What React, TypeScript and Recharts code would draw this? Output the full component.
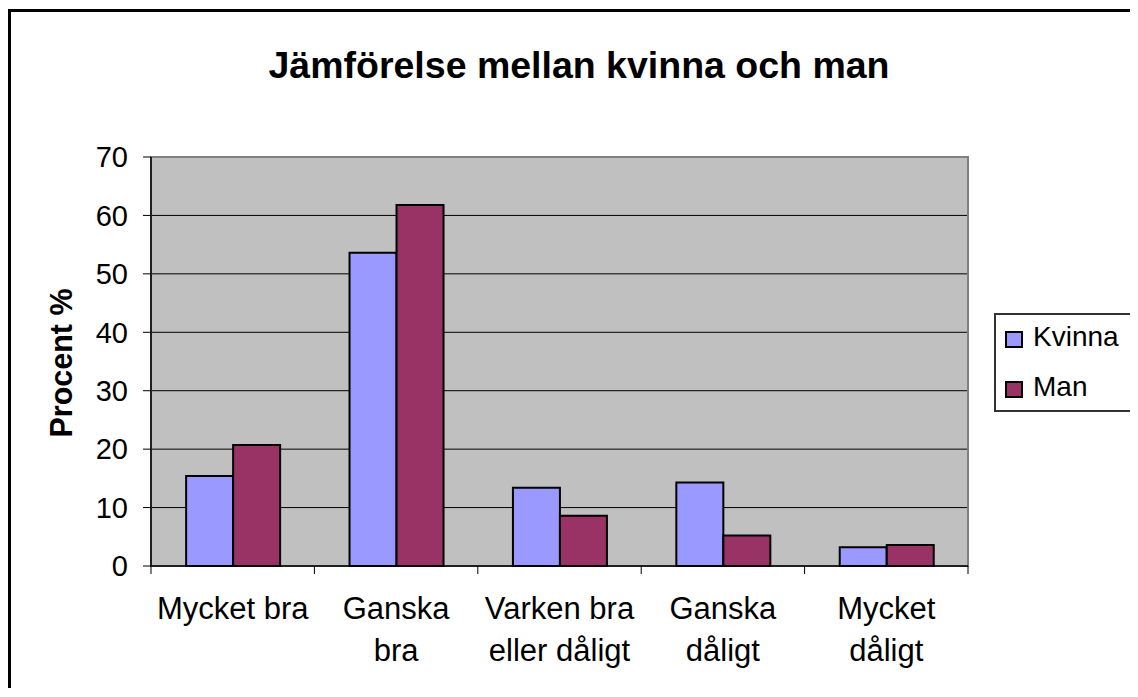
import React from 'react';
import { BarChart, Bar, XAxis, YAxis, CartesianGrid, ReferenceArea } from 'recharts';

const categories = ['Mycket bra', 'Ganska bra', 'Varken bra eller dåligt', 'Ganska dåligt', 'Mycket dåligt'];
const categoryLines = [['Mycket bra'], ['Ganska', 'bra'], ['Varken bra', 'eller dåligt'], ['Ganska', 'dåligt'], ['Mycket', 'dåligt']];
const kvinna = [15.4, 53.6, 13.4, 14.3, 3.2];
const man = [20.7, 61.8, 8.6, 5.2, 3.6];
const yTicks = [0, 10, 20, 30, 40, 50, 60, 70];
const seriesNames = ['Kvinna', 'Man'];
const seriesColors = ['#9999FF', '#993366'];
const title = 'Jämförelse mellan kvinna och man';
const yLabel = 'Procent %';

const data = categories.map((c, i) => ({ name: c, idx: i, Kvinna: kvinna[i], Man: man[i] }));

const FONT = '"Liberation Sans", Arial, sans-serif';
const PLOT_W = 817;
const N = categories.length;

const XTick = (props: any) => {
  const { x, y, payload } = props;
  const half = PLOT_W / N / 2;
  const idx = payload.index;
  const lines = categoryLines[idx] || [String(payload.value)];
  return (
    <g>
      <line x1={x - half} y1={y} x2={x - half} y2={y + 8} stroke="#000" strokeWidth={1} />
      {idx === N - 1 && <line x1={x + half} y1={y} x2={x + half} y2={y + 8} stroke="#000" strokeWidth={1} />}
      {lines.map((l: string, k: number) => (
        <text key={k} x={x} y={y + 53 + k * 42} textAnchor="middle" fontFamily={FONT} fontSize={31} fill="#000">
          {l}
        </text>
      ))}
    </g>
  );
};

const YLabel = () => (
  <text x={64} y={355} transform="rotate(-90, 64, 355)" textAnchor="middle" fontFamily={FONT} fontSize={30.5} fontWeight="bold" fill="#000">
    {yLabel}
  </text>
);

const LegendBox = () => (
  <div
    style={{
      position: 'absolute',
      left: 986,
      top: 305,
      width: 160,
      height: 99,
      boxSizing: 'border-box',
      border: '2px solid #333',
      background: '#fff',
    }}
  >
    <svg width={160} height={99} style={{ position: 'absolute', left: -2, top: -2 }}>
      {seriesNames.map((n, i) => (
        <g key={n}>
          <rect x={12} y={19 + i * 50} width={16} height={15} fill={seriesColors[i]} stroke="#000" strokeWidth={2} />
          <text x={39} y={33 + i * 50} fontFamily={FONT} fontSize={28} fill="#000">
            {n}
          </text>
        </g>
      ))}
    </svg>
  </div>
);

export default function App() {
  return (
    <div style={{ position: 'relative', width: 1130, height: 680, overflow: 'hidden', background: '#fff' }}>
      <div
        style={{
          position: 'absolute',
          left: 0,
          top: 1,
          width: 1160,
          height: 720,
          boxSizing: 'border-box',
          border: '3px solid #000',
        }}
      />
      <svg width={1130} height={120} style={{ position: 'absolute', left: 0, top: 0 }}>
        <text x={571} y={70} textAnchor="middle" fontFamily={FONT} fontSize={37.5} fontWeight="bold" fill="#000">
          {title}
        </text>
      </svg>
      <div style={{ position: 'absolute', left: 0, top: 0 }}>
        <BarChart
          width={1130}
          height={680}
          data={data}
          margin={{ top: 149, right: 170, left: 83, bottom: 12 }}
          barCategoryGap="21.5%"
          barGap={0}
        >
          <CartesianGrid vertical={false} fill="#C0C0C0" stroke="#000" strokeWidth={1} fillOpacity={1} />
          <ReferenceArea y1={0} y2={70} fill="none" stroke="#808080" strokeWidth={2} ifOverflow="visible" />
          <XAxis
            dataKey="name"
            height={110}
            interval={0}
            tickLine={false}
            tickSize={0}
            tickMargin={0}
            axisLine={{ stroke: '#000', strokeWidth: 1.5 }}
            tick={<XTick />}
          />
          <YAxis
            width={60}
            domain={[0, 70]}
            ticks={yTicks}
            interval={0}
            tickSize={8}
            tickMargin={15}
            axisLine={{ stroke: '#000', strokeWidth: 1.5 }}
            tickLine={{ stroke: '#000' }}
            tick={{ fontFamily: FONT, fontSize: 29, fill: '#000' }}
            label={<YLabel />}
          />
          {seriesNames.map((n, i) => (
            <Bar key={n} dataKey={n} fill={seriesColors[i]} stroke="#000" strokeWidth={2} isAnimationActive={false} />
          ))}
        </BarChart>
      </div>
      <LegendBox />
    </div>
  );
}
